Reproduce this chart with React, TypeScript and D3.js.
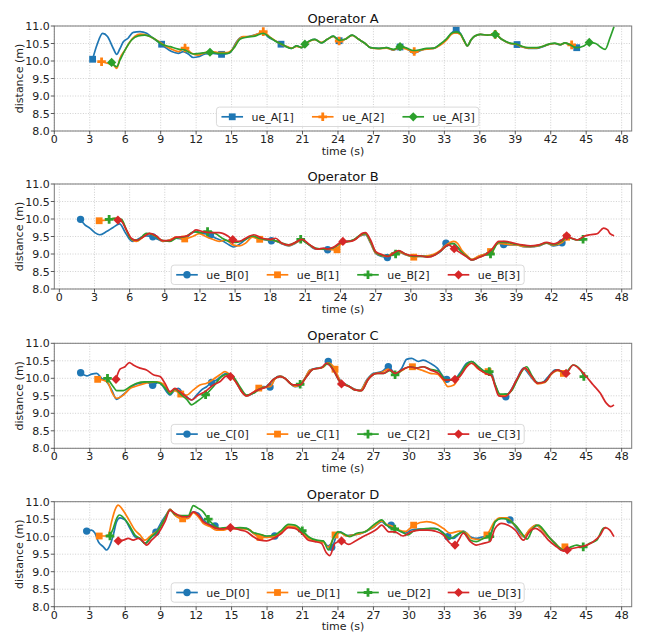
import React from 'react';
import * as d3 from 'd3';

type Pt = [number, number];

const xTicks = d3.range(0, 49, 3);
const yTicks = [8.0, 8.5, 9.0, 9.5, 10.0, 10.5, 11.0];
const titles = ['Operator A', 'Operator B', 'Operator C', 'Operator D'];
const colors = ['#1f77b4', '#ff7f0e', '#2ca02c', '#d62728'];

// Operator A
const ueA1: Pt[] = [[3.24,10.05],[3.6,10.45],[4.09,10.79],[4.5,10.7],[5.0,10.35],[5.28,10.19],[5.55,10.35],[5.84,10.55],[6.24,10.65],[6.68,10.82],[7.25,10.84],[7.81,10.79],[8.36,10.65],[9.08,10.48],[9.5,10.36],[9.93,10.27],[10.49,10.22],[10.91,10.27],[11.34,10.2],[11.76,10.1],[12.18,10.12],[12.75,10.2],[13.45,10.22],[14.15,10.19],[14.86,10.24],[15.42,10.55],[15.85,10.68],[16.41,10.7],[17.12,10.76],[17.68,10.82],[18.1,10.68],[18.66,10.58],[19.18,10.48],[19.63,10.41],[20.08,10.36],[20.5,10.43],[20.94,10.38],[21.2,10.48],[21.63,10.58],[22.05,10.62],[22.6,10.52],[23.1,10.62],[23.6,10.71],[24.1,10.58],[24.6,10.62],[25.2,10.74],[25.75,10.62],[26.3,10.5],[26.75,10.38],[27.4,10.36],[28.1,10.38],[28.7,10.31],[29.25,10.4],[29.8,10.36],[30.4,10.22],[30.9,10.29],[31.5,10.35],[32.1,10.36],[32.6,10.46],[33.2,10.62],[33.6,10.8],[34.0,10.88],[34.35,10.79],[34.65,10.6],[34.95,10.43],[35.25,10.6],[35.55,10.71],[36.05,10.76],[36.65,10.74],[37.3,10.76],[37.85,10.62],[38.55,10.5],[39.15,10.47],[39.55,10.41],[40.1,10.36],[40.8,10.36],[41.35,10.41],[41.9,10.48],[42.35,10.5],[42.8,10.46],[43.2,10.52],[43.6,10.46],[44.2,10.38]];
const ueA2: Pt[] = [[4.0,9.98],[4.57,9.93],[5.0,9.89],[5.28,9.79],[5.56,10.08],[5.98,10.31],[6.4,10.55],[6.83,10.71],[7.25,10.77],[7.81,10.74],[8.38,10.65],[9.08,10.5],[9.79,10.36],[10.49,10.27],[11.06,10.37],[11.62,10.22],[12.18,10.17],[12.75,10.24],[13.29,10.27],[13.99,10.24],[14.6,10.24],[15.14,10.36],[15.56,10.6],[15.98,10.7],[16.5,10.7],[17.12,10.76],[17.68,10.84],[18.22,10.69],[18.8,10.56],[19.35,10.45],[19.7,10.41],[20.1,10.37],[20.5,10.42],[20.94,10.39],[21.25,10.47],[21.63,10.57],[22.05,10.61],[22.6,10.53],[23.1,10.62],[23.6,10.7],[24.1,10.57],[24.6,10.62],[25.2,10.73],[25.75,10.62],[26.3,10.5],[26.75,10.38],[27.4,10.35],[28.1,10.37],[28.7,10.32],[29.25,10.38],[29.8,10.34],[30.45,10.27],[30.9,10.3],[31.5,10.34],[32.1,10.36],[32.6,10.44],[33.2,10.6],[33.6,10.76],[33.95,10.8],[34.35,10.76],[34.65,10.58],[34.95,10.43],[35.25,10.6],[35.55,10.71],[36.05,10.76],[36.65,10.74],[37.3,10.76],[37.85,10.62],[38.55,10.5],[39.15,10.47],[39.55,10.41],[40.1,10.37],[40.8,10.37],[41.35,10.42],[41.9,10.48],[42.35,10.5],[42.8,10.47],[43.2,10.51],[43.77,10.46]];
const ueA3: Pt[] = [[4.85,9.96],[5.28,9.84],[5.56,10.03],[5.98,10.31],[6.54,10.6],[7.1,10.72],[7.65,10.74],[8.36,10.66],[9.08,10.48],[9.79,10.41],[10.49,10.34],[11.06,10.31],[11.76,10.2],[12.32,10.22],[13.17,10.25],[13.87,10.22],[14.7,10.22],[15.28,10.41],[15.7,10.62],[16.27,10.68],[16.97,10.71],[17.68,10.79],[18.22,10.68],[18.8,10.55],[19.38,10.46],[19.63,10.41],[20.08,10.36],[20.5,10.43],[20.94,10.38],[21.2,10.48],[21.63,10.58],[22.05,10.62],[22.6,10.52],[23.1,10.62],[23.6,10.71],[24.1,10.59],[24.6,10.62],[25.2,10.74],[25.75,10.62],[26.3,10.5],[26.75,10.38],[27.4,10.36],[28.1,10.38],[28.7,10.33],[29.25,10.41],[29.8,10.37],[30.4,10.3],[30.9,10.32],[31.5,10.36],[32.1,10.37],[32.6,10.47],[33.2,10.64],[33.6,10.79],[34.0,10.83],[34.35,10.78],[34.65,10.6],[34.95,10.43],[35.25,10.6],[35.55,10.71],[36.05,10.76],[36.65,10.74],[37.3,10.76],[37.85,10.62],[38.55,10.51],[39.15,10.48],[39.55,10.42],[40.1,10.38],[40.8,10.38],[41.35,10.42],[41.9,10.49],[42.35,10.51],[42.8,10.47],[43.2,10.52],[43.6,10.47],[44.2,10.38],[44.8,10.43],[45.26,10.53],[45.8,10.5],[46.2,10.4],[46.6,10.33],[47.0,10.65],[47.35,10.98]];
const mkA1 = [3.24, 9.08, 14.15, 19.18, 24.1, 29.25, 34.0, 39.15, 44.2];
const mkA2 = [4.0, 11.06, 17.68, 24.1, 30.45, 37.3, 43.77];
const mkA3 = [4.85, 13.17, 21.2, 29.25, 37.3, 45.26];

// Operator B
const ueB0: Pt[] = [[1.81,9.99],[2.18,9.83],[2.6,9.74],[3.03,9.61],[3.45,9.55],[4.02,9.64],[4.59,9.76],[5.15,9.86],[5.58,9.64],[6.0,9.42],[6.28,9.36],[6.85,9.45],[7.42,9.52],[7.98,9.49],[8.4,9.42],[8.83,9.36],[9.4,9.4],[9.96,9.45],[10.67,9.42],[11.24,9.59],[11.66,9.64],[12.23,9.59],[12.9,9.54],[13.36,9.45],[13.9,9.38],[14.5,9.26],[14.9,9.2],[15.5,9.31],[16.05,9.45],[16.47,9.5],[17.0,9.45],[17.6,9.4],[18.1,9.38],[18.6,9.36],[19.0,9.29],[19.6,9.23],[20.15,9.31],[20.7,9.4],[21.3,9.26],[21.85,9.14],[22.4,9.14],[22.9,9.12],[23.43,9.17],[24.0,9.31],[24.57,9.36],[25.14,9.4],[25.7,9.52],[26.13,9.55],[26.56,9.31],[27.0,9.02],[27.55,8.93],[28.0,8.9],[28.4,9.02],[28.83,9.07],[29.54,8.98],[30.1,8.93],[30.68,8.93],[31.24,8.93],[31.95,8.98],[32.52,9.07],[33.0,9.31],[33.5,9.31],[33.94,9.21],[34.37,9.07],[34.8,8.93],[35.22,8.83],[35.8,8.93],[36.36,9.0],[36.93,9.12],[37.5,9.31],[37.92,9.27],[38.5,9.26],[39.06,9.26],[39.6,9.21],[40.2,9.2],[40.9,9.23],[41.6,9.31],[42.18,9.23],[42.9,9.32],[43.3,9.45]];
const ueB1: Pt[] = [[3.4,9.95],[4.02,9.97],[4.73,10.02],[5.3,9.97],[5.72,9.69],[6.14,9.42],[6.57,9.36],[7.13,9.48],[7.7,9.58],[8.26,9.5],[8.83,9.36],[9.4,9.4],[9.96,9.48],[10.7,9.43],[11.38,9.5],[11.95,9.58],[12.5,9.5],[13.08,9.42],[13.64,9.36],[14.2,9.4],[14.8,9.26],[15.34,9.23],[15.9,9.31],[16.47,9.48],[17.1,9.42],[17.6,9.42],[18.1,9.4],[18.6,9.36],[19.0,9.3],[19.6,9.24],[20.15,9.32],[20.7,9.4],[21.3,9.27],[21.85,9.15],[22.4,9.14],[23.0,9.13],[23.7,9.12],[24.0,9.28],[24.57,9.35],[25.14,9.4],[25.7,9.53],[26.13,9.57],[26.56,9.33],[27.0,9.03],[27.55,8.95],[28.0,8.93],[28.4,9.02],[28.83,9.07],[29.54,8.99],[30.25,8.91],[30.68,8.93],[31.24,8.94],[31.95,8.99],[32.52,9.1],[33.0,9.25],[33.66,9.36],[34.0,9.3],[34.37,9.1],[34.8,8.95],[35.22,8.85],[35.8,8.94],[36.36,9.0],[36.8,9.07],[37.5,9.3],[37.92,9.29],[38.5,9.27],[39.06,9.26],[39.6,9.22],[40.2,9.21],[40.9,9.24],[41.6,9.31],[42.18,9.25],[42.9,9.33],[43.3,9.48]];
const ueB2: Pt[] = [[4.25,9.99],[4.73,10.02],[5.3,9.99],[5.72,9.69],[6.14,9.42],[6.7,9.4],[7.42,9.59],[8.0,9.55],[8.7,9.4],[9.4,9.36],[9.96,9.45],[10.8,9.5],[11.5,9.64],[12.1,9.61],[12.65,9.64],[13.36,9.58],[13.9,9.45],[14.5,9.36],[15.06,9.33],[15.77,9.4],[16.47,9.52],[17.0,9.45],[17.6,9.42],[18.17,9.4],[18.9,9.33],[19.6,9.26],[20.15,9.33],[20.6,9.42],[21.1,9.31],[21.85,9.17],[22.55,9.14],[23.1,9.15],[23.5,9.2],[24.1,9.33],[24.7,9.36],[25.2,9.42],[25.7,9.55],[26.13,9.58],[26.56,9.36],[27.0,9.05],[27.55,8.96],[28.1,8.95],[28.7,9.0],[29.0,9.08],[29.54,9.0],[30.2,8.93],[30.8,8.94],[31.4,8.92],[32.1,8.98],[32.6,9.1],[33.1,9.24],[33.66,9.3],[34.2,9.1],[34.8,8.92],[35.2,8.83],[35.8,8.9],[36.36,8.97],[36.8,9.0],[37.5,9.33],[38.06,9.33],[38.77,9.29],[39.5,9.25],[40.2,9.22],[40.9,9.25],[41.6,9.32],[42.18,9.27],[42.9,9.37],[43.3,9.48],[43.75,9.44],[44.2,9.4],[44.7,9.42]];
const ueB3: Pt[] = [[5.0,9.97],[5.3,9.93],[5.72,9.69],[6.14,9.45],[6.57,9.39],[7.13,9.48],[7.7,9.59],[8.26,9.52],[8.83,9.38],[9.4,9.38],[9.96,9.48],[10.67,9.5],[11.24,9.58],[11.66,9.69],[12.23,9.64],[12.94,9.61],[13.64,9.61],[14.35,9.52],[14.8,9.41],[15.34,9.36],[16.05,9.48],[16.6,9.55],[17.3,9.45],[18.0,9.42],[18.45,9.45],[19.0,9.31],[19.6,9.26],[20.3,9.36],[20.7,9.42],[21.4,9.26],[22.0,9.14],[22.55,9.17],[22.86,9.14],[23.43,9.2],[24.2,9.36],[24.85,9.36],[25.4,9.45],[25.85,9.59],[26.13,9.61],[26.56,9.4],[27.0,9.07],[27.55,8.98],[28.1,8.93],[28.5,9.02],[28.97,9.1],[29.54,9.0],[30.25,8.95],[30.8,8.95],[31.4,8.91],[32.1,8.98],[32.66,9.12],[33.2,9.26],[33.7,9.15],[34.2,9.04],[34.8,8.91],[35.2,8.83],[35.8,8.9],[36.36,8.98],[36.93,9.14],[37.5,9.36],[38.06,9.36],[38.77,9.31],[39.5,9.26],[40.2,9.23],[40.9,9.26],[41.6,9.33],[42.18,9.29],[42.9,9.4],[43.3,9.52],[43.75,9.45],[44.2,9.4],[44.74,9.5],[45.3,9.55],[45.9,9.58],[46.45,9.74],[46.8,9.69],[47.0,9.58],[47.35,9.52]];
const mkB0 = [1.81, 7.98, 12.9, 18.1, 22.9, 28.0, 33.0, 37.92, 42.9];
const mkB1 = [3.4, 10.7, 17.1, 23.7, 30.25, 36.8, 43.3];
const mkB2 = [4.25, 12.65, 20.6, 28.7, 36.8, 44.7];
const mkB3 = [5.0, 14.8, 24.2, 33.7, 43.3];

// Operator C
const ueC0: Pt[] = [[2.23,10.16],[2.74,10.07],[3.16,10.12],[3.58,10.14],[4.0,10.0],[4.43,9.9],[4.85,9.67],[5.27,9.4],[5.7,9.5],[6.12,9.62],[6.54,9.76],[6.97,9.84],[7.39,9.86],[7.8,9.9],[8.32,9.8],[8.8,9.88],[9.22,9.76],[9.5,9.62],[9.79,9.52],[10.2,9.67],[10.5,9.71],[10.9,9.57],[11.34,9.43],[11.62,9.38],[12.04,9.52],[12.46,9.67],[12.89,9.76],[13.31,9.88],[13.73,9.95],[14.16,10.07],[14.58,10.14],[15.0,10.1],[15.43,9.86],[15.85,9.62],[16.27,9.5],[16.7,9.55],[17.12,9.67],[17.68,9.76],[18.25,9.75],[18.67,10.0],[19.1,10.07],[19.5,10.0],[19.94,9.86],[20.36,9.76],[20.78,9.81],[21.2,10.0],[21.63,10.24],[22.2,10.29],[22.76,10.33],[23.18,10.48],[23.75,10.19],[24.17,9.95],[24.74,9.81],[25.3,9.71],[25.86,9.65],[26.43,9.95],[27.0,10.14],[27.7,10.19],[28.26,10.33],[28.83,10.14],[29.4,10.29],[29.8,10.54],[30.23,10.57],[30.8,10.48],[31.2,10.52],[31.8,10.43],[32.4,10.29],[32.9,10.05],[33.2,9.97],[33.76,9.95],[34.3,10.14],[34.9,10.43],[35.3,10.48],[35.87,10.33],[36.43,10.19],[37.0,10.14],[37.3,9.81],[37.7,9.52],[38.2,9.47],[38.55,9.62],[39.1,9.95],[39.7,10.29],[40.1,10.14],[40.7,9.9],[41.2,9.86],[41.8,10.05],[42.4,10.24],[42.9,10.19],[43.2,10.1]];
const ueC1: Pt[] = [[3.67,9.97],[4.15,9.95],[4.57,9.86],[4.85,9.62],[5.27,9.43],[5.84,9.52],[6.4,9.71],[6.97,9.78],[7.53,9.84],[8.1,9.88],[8.66,9.9],[9.22,9.84],[9.79,9.6],[10.2,9.65],[10.7,9.55],[11.2,9.52],[11.76,9.67],[12.32,9.81],[12.89,9.86],[13.45,9.97],[14.0,10.1],[14.44,10.19],[14.86,10.1],[15.43,9.86],[15.85,9.62],[16.27,9.5],[16.7,9.56],[17.3,9.72],[17.8,9.75],[18.3,9.77],[18.67,9.98],[19.1,10.06],[19.5,10.0],[19.94,9.86],[20.36,9.77],[20.78,9.82],[21.2,10.0],[21.63,10.23],[22.2,10.28],[22.76,10.32],[23.18,10.44],[23.75,10.26],[24.17,9.93],[24.74,9.8],[25.3,9.7],[25.86,9.64],[26.43,9.93],[27.0,10.12],[27.7,10.17],[28.26,10.26],[28.83,10.13],[29.4,10.22],[29.8,10.3],[30.3,10.33],[30.8,10.26],[31.2,10.22],[31.8,10.14],[32.4,10.12],[32.9,9.95],[33.3,9.76],[33.76,9.8],[34.3,10.06],[34.9,10.37],[35.3,10.43],[35.87,10.27],[36.43,10.17],[36.7,10.19],[37.0,10.1],[37.3,9.8],[37.7,9.52],[38.2,9.5],[38.55,9.6],[39.1,9.93],[39.8,10.28],[40.4,10.03],[40.9,9.84],[41.5,9.88],[42.07,10.12],[42.6,10.22],[43.07,10.14]];
const ueC2: Pt[] = [[4.5,10.0],[4.99,9.76],[5.27,9.65],[5.84,9.65],[6.4,9.76],[6.97,9.86],[7.67,9.9],[8.38,9.9],[8.94,9.86],[9.5,9.67],[9.79,9.55],[10.2,9.69],[10.77,9.52],[11.2,9.4],[11.62,9.24],[12.04,9.33],[12.8,9.53],[13.45,9.76],[14.16,10.05],[14.72,10.12],[15.14,10.05],[15.7,9.76],[16.27,9.52],[16.84,9.57],[17.4,9.7],[17.96,9.76],[18.53,9.97],[19.1,10.05],[19.5,10.0],[20.2,9.81],[20.8,9.83],[21.35,10.05],[21.9,10.26],[22.6,10.3],[23.18,10.43],[23.6,10.24],[24.17,9.9],[25.0,9.76],[25.4,9.67],[26.0,9.65],[26.56,9.97],[27.3,10.14],[27.84,10.14],[28.4,10.22],[28.83,10.1],[29.5,10.26],[30.1,10.33],[30.66,10.3],[31.2,10.33],[31.8,10.26],[32.5,10.2],[33.05,9.97],[33.76,9.95],[34.3,10.1],[34.9,10.4],[35.3,10.48],[35.87,10.33],[36.43,10.2],[36.8,10.19],[37.3,9.82],[37.7,9.55],[38.3,9.55],[38.7,9.65],[39.2,9.98],[39.95,10.33],[40.4,10.08],[40.9,9.87],[41.5,9.9],[42.07,10.14],[42.6,10.24],[43.2,10.15],[43.9,10.38],[44.5,10.25],[44.8,10.05]];
const ueC3: Pt[] = [[5.22,9.97],[5.56,10.26],[5.98,10.33],[6.35,10.45],[6.68,10.38],[7.25,10.29],[7.8,10.24],[8.38,10.1],[8.94,10.05],[9.36,9.86],[9.79,9.62],[10.2,9.71],[10.63,9.62],[11.05,9.5],[11.62,9.38],[12.18,9.52],[12.75,9.62],[13.45,9.81],[14.0,9.9],[14.58,10.07],[14.9,10.05],[15.43,9.86],[15.85,9.62],[16.27,9.5],[16.84,9.6],[17.4,9.69],[17.96,9.76],[18.53,9.97],[19.1,10.05],[19.5,10.0],[20.2,9.81],[20.78,9.81],[21.35,10.05],[21.9,10.26],[22.6,10.3],[23.0,10.43],[23.6,10.24],[24.3,9.84],[25.0,9.76],[25.4,9.67],[26.0,9.65],[26.56,9.97],[27.3,10.14],[27.84,10.14],[28.4,10.24],[28.83,10.14],[29.5,10.26],[30.1,10.33],[30.66,10.29],[31.2,10.33],[31.8,10.24],[32.5,10.14],[33.05,9.95],[33.9,9.97],[34.3,10.05],[34.9,10.33],[35.3,10.43],[36.0,10.24],[36.6,10.12],[37.0,10.07],[37.3,9.76],[37.6,9.5],[38.1,9.48],[38.55,9.6],[39.1,9.95],[39.8,10.3],[40.4,10.05],[40.9,9.86],[41.5,9.9],[42.07,10.14],[42.6,10.24],[43.3,10.14],[43.9,10.38],[44.5,10.24],[45.0,10.05],[45.6,9.81],[46.2,9.57],[46.7,9.29],[47.07,9.19],[47.35,9.24]];
const mkC0 = [2.23, 8.32, 13.31, 18.25, 23.18, 28.26, 33.2, 38.2];
const mkC1 = [3.67, 10.7, 17.3, 23.75, 30.3, 36.7, 43.07];
const mkC2 = [4.5, 12.8, 20.8, 28.83, 36.8, 44.8];
const mkC3 = [5.22, 14.9, 24.3, 33.9, 43.3];

// Operator D
const ueD0: Pt[] = [[2.74,10.16],[3.16,10.19],[3.44,10.1],[3.72,9.86],[4.15,9.71],[4.43,9.62],[4.71,9.76],[4.99,10.05],[5.27,10.43],[5.55,10.54],[5.98,10.48],[6.4,10.24],[6.82,10.0],[7.25,9.95],[7.67,9.81],[8.1,9.95],[8.6,10.13],[9.08,10.43],[9.5,10.64],[9.79,10.78],[10.2,10.62],[10.77,10.54],[11.34,10.57],[11.76,10.71],[12.18,10.67],[12.6,10.48],[13.17,10.35],[13.6,10.31],[14.0,10.19],[14.58,10.24],[15.14,10.24],[15.7,10.22],[16.27,10.24],[16.84,10.1],[17.4,10.05],[17.96,10.0],[18.65,10.02],[19.1,10.1],[19.66,10.29],[20.2,10.29],[20.64,10.24],[21.07,10.14],[21.63,9.95],[22.2,9.88],[22.76,9.86],[23.1,9.74],[23.47,9.7],[23.9,10.05],[24.2,10.14],[24.7,10.03],[25.3,10.05],[26.0,10.1],[26.6,10.19],[27.1,10.29],[27.7,10.43],[28.1,10.33],[28.5,10.33],[29.1,10.19],[29.7,10.1],[30.2,10.19],[30.8,10.22],[31.5,10.22],[32.2,10.24],[32.8,10.14],[33.3,10.0],[33.76,9.95],[34.2,10.07],[34.6,10.16],[35.2,10.0],[35.7,9.95],[36.3,10.0],[36.85,10.05],[37.3,10.43],[37.7,10.52],[38.27,10.52],[38.55,10.48],[39.1,10.24],[39.7,10.0],[40.2,10.19],[40.8,10.33],[41.2,10.22],[41.8,10.0],[42.4,9.81],[42.9,9.62],[43.3,9.65]];
const ueD1: Pt[] = [[3.8,10.02],[4.29,10.02],[4.57,10.05],[4.85,10.43],[5.13,10.76],[5.41,10.9],[5.7,10.81],[5.98,10.67],[6.4,10.43],[6.82,10.19],[7.25,10.05],[7.67,9.9],[8.23,10.05],[8.8,10.19],[9.36,10.52],[9.79,10.78],[10.2,10.62],[10.86,10.51],[11.34,10.52],[11.76,10.69],[12.18,10.57],[12.6,10.38],[13.17,10.29],[13.73,10.19],[14.3,10.19],[14.86,10.24],[15.4,10.22],[16.0,10.22],[16.5,10.2],[16.9,10.08],[17.4,9.98],[17.96,9.98],[18.6,10.0],[19.2,10.12],[19.8,10.3],[20.36,10.28],[20.92,10.15],[21.5,9.95],[22.2,9.88],[22.76,9.84],[23.2,9.7],[23.75,10.05],[24.2,10.12],[24.7,10.02],[25.3,10.05],[26.0,10.1],[26.6,10.2],[27.1,10.3],[27.7,10.45],[28.1,10.35],[28.6,10.3],[29.1,10.2],[29.7,10.15],[30.4,10.33],[31.5,10.43],[32.2,10.38],[32.9,10.24],[33.5,10.1],[34.3,10.16],[34.9,10.1],[35.3,9.95],[36.0,9.92],[36.6,10.05],[37.3,10.45],[37.7,10.54],[38.3,10.54],[38.8,10.38],[39.3,10.2],[39.7,10.0],[40.2,10.2],[40.8,10.33],[41.2,10.22],[41.8,10.0],[42.4,9.8],[42.9,9.66],[43.2,9.71]];
const ueD2: Pt[] = [[4.71,10.02],[4.99,10.24],[5.27,10.52],[5.5,10.62],[5.98,10.5],[6.4,10.29],[6.82,10.05],[7.25,9.95],[7.67,9.81],[8.23,10.0],[8.8,10.19],[9.36,10.52],[9.79,10.76],[10.2,10.64],[10.77,10.6],[11.34,10.6],[11.76,10.89],[12.18,10.81],[12.6,10.71],[13.03,10.5],[13.45,10.35],[14.0,10.24],[14.58,10.26],[15.14,10.24],[15.7,10.26],[16.27,10.24],[16.84,10.12],[17.4,10.07],[17.96,10.02],[18.67,10.05],[19.24,10.19],[19.8,10.35],[20.36,10.33],[20.98,10.17],[21.5,10.0],[22.2,9.9],[22.76,9.88],[23.2,9.62],[23.6,9.95],[24.0,10.14],[24.4,10.1],[25.0,10.0],[25.6,10.1],[26.3,10.14],[26.85,10.29],[27.4,10.43],[27.7,10.48],[28.1,10.33],[28.8,10.22],[29.4,10.14],[29.9,10.05],[30.4,10.16],[31.1,10.22],[31.8,10.24],[32.4,10.22],[32.9,10.1],[33.5,9.95],[34.04,10.05],[34.6,10.14],[35.2,9.9],[35.7,9.86],[36.3,9.95],[36.85,10.0],[37.3,10.43],[37.85,10.52],[38.4,10.48],[39.0,10.33],[39.55,10.1],[40.0,9.93],[40.5,10.24],[40.96,10.33],[41.4,10.19],[41.95,9.95],[42.5,9.76],[43.07,9.62],[43.6,9.69],[44.2,9.76],[44.75,9.71],[45.3,9.81],[45.9,9.9],[46.45,10.24],[46.7,10.26]];
const ueD3: Pt[] = [[5.41,9.88],[5.84,9.9],[6.26,9.95],[6.68,9.9],[7.1,9.95],[7.53,9.86],[7.8,9.76],[8.23,9.9],[8.8,10.1],[9.36,10.43],[9.79,10.76],[10.2,10.67],[10.9,10.57],[11.34,10.57],[11.76,10.71],[12.18,10.62],[12.6,10.43],[13.17,10.33],[13.73,10.24],[14.3,10.22],[14.9,10.26],[15.7,10.19],[16.27,10.14],[16.84,10.0],[17.4,9.9],[17.96,9.88],[18.53,9.95],[19.24,10.1],[19.8,10.26],[20.36,10.24],[20.92,10.1],[21.5,9.9],[22.05,9.86],[22.6,9.81],[23.0,9.55],[23.3,9.46],[23.75,9.81],[24.3,9.88],[24.9,9.78],[25.4,9.86],[26.1,10.0],[26.7,10.1],[27.3,10.22],[27.7,10.33],[28.3,10.14],[28.8,10.14],[29.5,10.02],[30.2,10.14],[30.9,10.19],[31.6,10.19],[32.2,10.16],[32.9,10.05],[33.5,9.81],[33.9,9.76],[34.2,9.9],[34.6,10.1],[35.2,9.86],[35.7,9.76],[36.3,9.81],[36.85,9.86],[37.3,10.24],[37.85,10.38],[38.4,10.33],[39.0,10.19],[39.7,9.9],[40.2,10.14],[40.7,10.24],[41.2,10.14],[41.8,9.9],[42.5,9.71],[43.07,9.59],[43.4,9.62],[43.9,9.67],[44.5,9.71],[45.05,9.76],[45.6,9.86],[46.2,10.05],[46.6,10.26],[47.0,10.19],[47.35,10.0]];
const mkD0 = [2.74, 8.6, 13.6, 18.65, 23.47, 28.5, 33.3, 38.55];
const mkD1 = [3.8, 10.86, 17.4, 23.75, 30.4, 36.6, 43.2];
const mkD2 = [4.71, 13.03, 20.98, 28.8, 36.85, 44.75];
const mkD3 = [5.41, 14.9, 24.3, 33.9, 43.4];

type Series = { name: string; data: Pt[]; marks: number[]; color: string; shape: string };

const panels: { title: string; xMin: number; series: Series[] }[] = [
  { title: titles[0], xMin: 0, series: [
    { name: 'ue_A[1]', data: ueA1, marks: mkA1, color: colors[0], shape: 's' },
    { name: 'ue_A[2]', data: ueA2, marks: mkA2, color: colors[1], shape: 'P' },
    { name: 'ue_A[3]', data: ueA3, marks: mkA3, color: colors[2], shape: 'D' },
  ]},
  { title: titles[1], xMin: -0.43, series: [
    { name: 'ue_B[0]', data: ueB0, marks: mkB0, color: colors[0], shape: 'o' },
    { name: 'ue_B[1]', data: ueB1, marks: mkB1, color: colors[1], shape: 's' },
    { name: 'ue_B[2]', data: ueB2, marks: mkB2, color: colors[2], shape: 'P' },
    { name: 'ue_B[3]', data: ueB3, marks: mkB3, color: colors[3], shape: 'D' },
  ]},
  { title: titles[2], xMin: 0, series: [
    { name: 'ue_C[0]', data: ueC0, marks: mkC0, color: colors[0], shape: 'o' },
    { name: 'ue_C[1]', data: ueC1, marks: mkC1, color: colors[1], shape: 's' },
    { name: 'ue_C[2]', data: ueC2, marks: mkC2, color: colors[2], shape: 'P' },
    { name: 'ue_C[3]', data: ueC3, marks: mkC3, color: colors[3], shape: 'D' },
  ]},
  { title: titles[3], xMin: 0, series: [
    { name: 'ue_D[0]', data: ueD0, marks: mkD0, color: colors[0], shape: 'o' },
    { name: 'ue_D[1]', data: ueD1, marks: mkD1, color: colors[1], shape: 's' },
    { name: 'ue_D[2]', data: ueD2, marks: mkD2, color: colors[2], shape: 'P' },
    { name: 'ue_D[3]', data: ueD3, marks: mkD3, color: colors[3], shape: 'D' },
  ]},
];

const LEFT = 54.3, RIGHT = 631.7, PH = 105;
const TOPS = [26, 184, 343.3, 501.7];
const FONT = 'DejaVu Sans, sans-serif';

function Marker({ shape, x, y, color }: { shape: string; x: number; y: number; color: string }) {
  if (shape === 'o') return <circle cx={x} cy={y} r={3.7} fill={color} />;
  if (shape === 's') return <rect x={x - 3.4} y={y - 3.4} width={6.8} height={6.8} fill={color} />;
  if (shape === 'D') {
    const r = 4.6;
    return <path d={`M${x},${y - r}L${x + r},${y}L${x},${y + r}L${x - r},${y}Z`} fill={color} />;
  }
  const a = 4.3, b = 1.4;
  return (
    <path
      d={`M${x - b},${y - a}H${x + b}V${y - b}H${x + a}V${y + b}H${x + b}V${y + a}H${x - b}V${y + b}H${x - a}V${y - b}H${x - b}Z`}
      fill={color}
    />
  );
}

function Panel({ idx }: { idx: number }) {
  const p = panels[idx];
  const top = TOPS[idx];
  const bottom = top + PH;
  const x = d3.scaleLinear().domain([p.xMin, 48.85]).range([LEFT, RIGHT]);
  const y = d3.scaleLinear().domain([8, 11]).range([bottom, top]);
  const line = d3.line<Pt>().x(d => x(d[0])).y(d => y(d[1])).curve(d3.curveMonotoneX);
  const cx = (LEFT + RIGHT) / 2;

  const n = p.series.length;
  const legW = 81.5 + (n - 1) * 90.5;
  const legL = 347.7 - legW / 2;
  const legB = bottom - 4.5;
  const legT = legB - 19.4;
  const legY = (legT + legB) / 2;

  return (
    <g>
      <text x={cx} y={top - 3.2} textAnchor="middle" fontSize={13} fill="#111">{p.title}</text>
      {xTicks.map(t => (
        <line key={'gx' + t} x1={x(t)} x2={x(t)} y1={top} y2={bottom} stroke="#c4c4c4" strokeWidth={0.8} strokeDasharray="1,1.6" />
      ))}
      {yTicks.map(t => (
        <line key={'gy' + t} x1={LEFT} x2={RIGHT} y1={y(t)} y2={y(t)} stroke="#c4c4c4" strokeWidth={0.8} strokeDasharray="1,1.6" />
      ))}
      {p.series.map(s => (
        <g key={s.name}>
          <path d={line(s.data) || ''} fill="none" stroke={s.color} strokeWidth={1.7} strokeLinejoin="round" />
          {s.marks.map(m => {
            const pt = d3.least(s.data, d => Math.abs(d[0] - m)) as Pt;
            return <Marker key={m} shape={s.shape} x={x(pt[0])} y={y(pt[1])} color={s.color} />;
          })}
        </g>
      ))}
      <rect x={LEFT} y={top} width={RIGHT - LEFT} height={PH} fill="none" stroke="#7a7a7a" strokeWidth={1} />
      {xTicks.map(t => (
        <g key={'tx' + t}>
          <line x1={x(t)} x2={x(t)} y1={bottom} y2={bottom + 3.5} stroke="#333" strokeWidth={0.8} />
          <text x={x(t)} y={bottom + 11.8} textAnchor="middle" fontSize={11} fill="#222">{t}</text>
        </g>
      ))}
      {yTicks.map(t => (
        <g key={'ty' + t}>
          <line x1={LEFT - 3.5} x2={LEFT} y1={y(t)} y2={y(t)} stroke="#333" strokeWidth={0.8} />
          <text x={LEFT - 4.5} y={y(t) + 4} textAnchor="end" fontSize={11} fill="#222">{d3.format('.1f')(t)}</text>
        </g>
      ))}
      <text x={cx} y={bottom + 23.5} textAnchor="middle" fontSize={11} fill="#222">time (s)</text>
      <text transform={`translate(23,${(top + bottom) / 2}) rotate(-90)`} textAnchor="middle" fontSize={11} fill="#222">distance (m)</text>
      <rect x={legL} y={legT} width={legW} height={legB - legT} rx={3} fill="#fff" fillOpacity={0.8} stroke="#d0d0d0" strokeWidth={0.8} />
      {p.series.map((s, i) => {
        const lx = legL + 5 + i * 90.5;
        return (
          <g key={'lg' + s.name}>
            <line x1={lx} x2={lx + 21.6} y1={legY} y2={legY} stroke={s.color} strokeWidth={1.7} />
            <Marker shape={s.shape} x={lx + 10.8} y={legY} color={s.color} />
            <text x={lx + 30} y={legY + 4} fontSize={11} fill="#222">{s.name}</text>
          </g>
        );
      })}
    </g>
  );
}

export default function App() {
  return (
    <svg
      width={645}
      height={633}
      style={{ position: 'absolute', left: 0, top: 0, background: '#fff' }}
      fontFamily={FONT}
    >
      {panels.map((_, i) => <Panel key={i} idx={i} />)}
    </svg>
  );
}
